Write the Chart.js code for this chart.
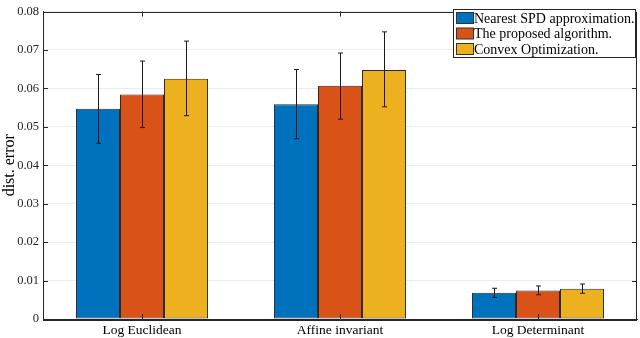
<!DOCTYPE html>
<html>
<head>
<meta charset="utf-8">
<script src="https://cdn.jsdelivr.net/npm/chart.js@4.4.1/dist/chart.umd.min.js"></script>
<style>
  html, body { margin: 0; padding: 0; background: #fff; }
  #wrap { width: 640px; height: 338px; }
</style>
</head>
<body>
<div id="wrap"><canvas id="chart"></canvas></div>
<script>
// categories and series
const categories = ['Log Euclidean', 'Affine invariant', 'Log Determinant'];
const seriesNames = ['Nearest SPD approximation.', 'The proposed algorithm.', 'Convex Optimization.'];
const nearestSPD = [0.0547, 0.0559, 0.0068];
const proposed = [0.0584, 0.0607, 0.0074];
const convexOpt = [0.0625, 0.0648, 0.0079];
// error bar ends
const nearestLow = [0.0457, 0.0469, 0.0056];
const nearestHigh = [0.0636, 0.0649, 0.0080];
const proposedLow = [0.0498, 0.0520, 0.0063];
const proposedHigh = [0.0671, 0.0692, 0.0086];
const convexLow = [0.0529, 0.0552, 0.0067];
const convexHigh = [0.0723, 0.0747, 0.0091];
const yTicks = [0, 0.01, 0.02, 0.03, 0.04, 0.05, 0.06, 0.07, 0.08];

const colors = ['#0072BD', '#D95319', '#EDB120'];
const FONT = '"Liberation Serif", "DejaVu Serif", serif';
const axisColor = '#262626';

const errData = [
    { low: nearestLow, high: nearestHigh },
    { low: proposedLow, high: proposedHigh },
    { low: convexLow, high: convexHigh }
];

// error bars, box and legend drawn over the bars
const extras = {
    id: 'extras',
    afterDatasetsDraw(chart) {
        const ctx = chart.ctx;
        const y = chart.scales.y;
        ctx.save();
        ctx.strokeStyle = '#1a1a1a';
        ctx.lineWidth = 1;
        chart.data.datasets.forEach((ds, i) => {
            const meta = chart.getDatasetMeta(i);
            meta.data.forEach((bar, j) => {
                const x = Math.round(bar.x) + 0.5;
                const yl = y.getPixelForValue(errData[i].low[j]);
                const yh = y.getPixelForValue(errData[i].high[j]);
                ctx.beginPath();
                ctx.moveTo(x, yl); ctx.lineTo(x, yh);
                ctx.moveTo(x - 2.5, yl); ctx.lineTo(x + 2.5, yl);
                ctx.moveTo(x - 2.5, yh); ctx.lineTo(x + 2.5, yh);
                ctx.stroke();
            });
        });
        ctx.restore();
    },
    afterDraw(chart) {
        const ctx = chart.ctx;
        const a = chart.chartArea;
        ctx.save();
        // axes box
        ctx.strokeStyle = axisColor;
        ctx.lineWidth = 1;
        ctx.strokeRect(Math.round(a.left) + 0.5, Math.round(a.top) + 0.5,
            Math.round(a.right - a.left) - 1, Math.round(a.bottom - a.top));
        // inward ticks on y
        const ys = chart.scales.y;
        ctx.beginPath();
        yTicks.forEach(v => {
            const p = Math.round(ys.getPixelForValue(v)) + 0.5;
            ctx.moveTo(a.left, p); ctx.lineTo(a.left + 5, p);
            ctx.moveTo(a.right, p); ctx.lineTo(a.right - 5, p);
        });
        // inward ticks on x
        const xs = chart.scales.x;
        categories.forEach((c, i) => {
            const p = Math.round(xs.getPixelForValue(i)) + 0.5;
            ctx.moveTo(p, a.bottom); ctx.lineTo(p, a.bottom - 5);
            ctx.moveTo(p, a.top); ctx.lineTo(p, a.top + 5);
        });
        ctx.stroke();

        // legend
        const lx = 453, ly = 9, lw = 182, lh = 48;
        ctx.fillStyle = '#fff';
        ctx.fillRect(lx, ly, lw, lh);
        ctx.strokeStyle = '#262626';
        ctx.strokeRect(lx + 0.5, ly + 0.5, lw, lh);
        ctx.font = '14px ' + FONT;
        ctx.textBaseline = 'middle';
        chart.data.datasets.forEach((ds, i) => {
            const cy = ly + 9 + i * 15.5;
            ctx.fillStyle = ds.backgroundColor;
            ctx.fillRect(lx + 3, cy - 5.5, 17, 11);
            ctx.strokeStyle = '#333';
            ctx.strokeRect(lx + 3.5, cy - 5.5, 17, 11);
            ctx.fillStyle = '#000';
            ctx.fillText(ds.label, lx + 21, cy + 1);
        });
        ctx.restore();
    }
};

new Chart(document.getElementById('chart'), {
    type: 'bar',
    data: {
        labels: categories,
        datasets: [nearestSPD, proposed, convexOpt].map((d, i) => ({
            label: seriesNames[i],
            data: d,
            backgroundColor: colors[i],
            borderColor: '#2a2a2a',
            borderWidth: 1,
            borderSkipped: false,
            categoryPercentage: 0.667,
            barPercentage: 1.0
        }))
    },
    options: {
        responsive: true,
        maintainAspectRatio: false,
        animation: false,
        layout: { padding: { left: 0, right: 3, top: 6, bottom: 0 } },
        plugins: {
            legend: { display: false },
            tooltip: { enabled: false }
        },
        scales: {
            x: {
                grid: { display: false, drawTicks: false },
                border: { color: axisColor },
                ticks: { color: '#000', font: { family: FONT, size: 13.5 }, padding: 3, maxRotation: 0 },
                afterFit(scale) { scale.height = 19; }
            },
            y: {
                min: 0,
                max: 0.08,
                afterBuildTicks(scale) { scale.ticks = yTicks.map(v => ({ value: v })); },
                grid: { color: '#ebebeb', tickLength: 0, drawTicks: false },
                border: { color: axisColor },
                ticks: {
                    color: '#262626',
                    font: { family: FONT, size: 12.5 },
                    padding: 4,
                    callback: v => (v === 0 ? '0' : v.toFixed(2))
                },
                title: {
                    display: true,
                    text: 'dist. error',
                    color: '#000',
                    font: { family: FONT, size: 16 },
                    padding: { top: 0, bottom: 1 }
                },
                afterFit(scale) { scale.width = 43; }
            }
        }
    },
    plugins: [extras]
});
</script>
</body>
</html>
